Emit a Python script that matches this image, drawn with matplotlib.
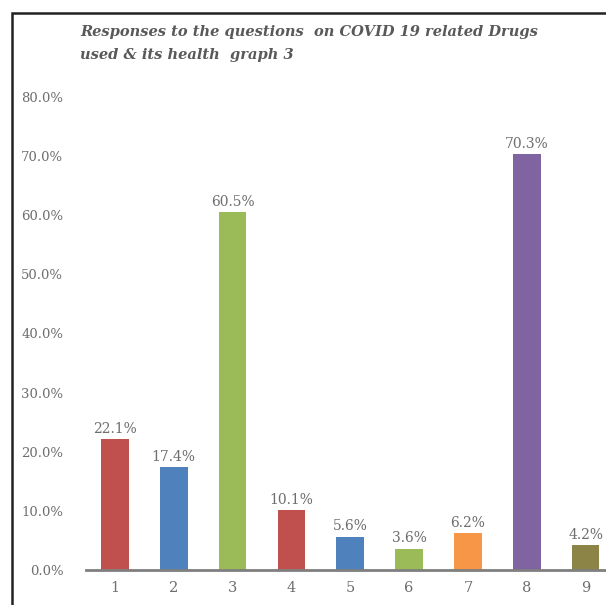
import matplotlib.pyplot as plt
from matplotlib.patches import Rectangle
from matplotlib.ticker import FuncFormatter

categories = ['1', '2', '3', '4', '5', '6', '7', '8', '9']
values = [22.1, 17.4, 60.5, 10.1, 5.6, 3.6, 6.2, 70.3, 4.2]
colors = ['#C0504D', '#4F81BD', '#9BBB59', '#C0504D', '#4F81BD',
          '#9BBB59', '#F79646', '#8064A2', '#8B8446']
title = 'Responses to the questions  on COVID 19 related Drugs\nused & its health  graph 3'

plt.rcParams['font.family'] = ['DejaVu Serif']
gray = '#6E6E6E'

fig = plt.figure(figsize=(6.06, 6.05), dpi=100)
ax = fig.add_axes([85.5 / 606, 35 / 605, 529.5 / 606, 473 / 605])

x = range(len(categories))
ax.bar(x, values, width=0.47, color=colors)
for i, v in enumerate(values):
    ax.text(i, v + 0.6, f'{v:.1f}%', ha='center', va='bottom',
            fontsize=10, color=gray)

ax.set_xlim(-0.5, 8.5)
ax.set_ylim(0, 80)
ax.set_yticks(range(0, 81, 10))
ax.yaxis.set_major_formatter(FuncFormatter(lambda v, p: f'{v:.1f}%'))
ax.set_xticks(list(x))
ax.set_xticklabels(categories)
ax.tick_params(axis='both', length=0, labelcolor=gray)
ax.tick_params(axis='y', pad=16, labelsize=9.5)
ax.tick_params(axis='x', pad=8, labelsize=10.5)

for s in ['top', 'right', 'left']:
    ax.spines[s].set_visible(False)
ax.spines['bottom'].set_color('#7F7F7F')
ax.spines['bottom'].set_linewidth(2)

fig.text(80 / 606, 1 - 25 / 605, title, ha='left', va='top',
         fontsize=10.5, fontweight='bold', style='italic', color='#595959',
         linespacing=1.85)

# outer frame (picture is cropped on the right and bottom)
fig.add_artist(Rectangle((12 / 606, -0.1), 1.2, 0.1 + (605 - 13) / 605,
                         transform=fig.transFigure, fill=False,
                         edgecolor='#222222', linewidth=1.8))

fig.savefig('out.png', dpi=100)
